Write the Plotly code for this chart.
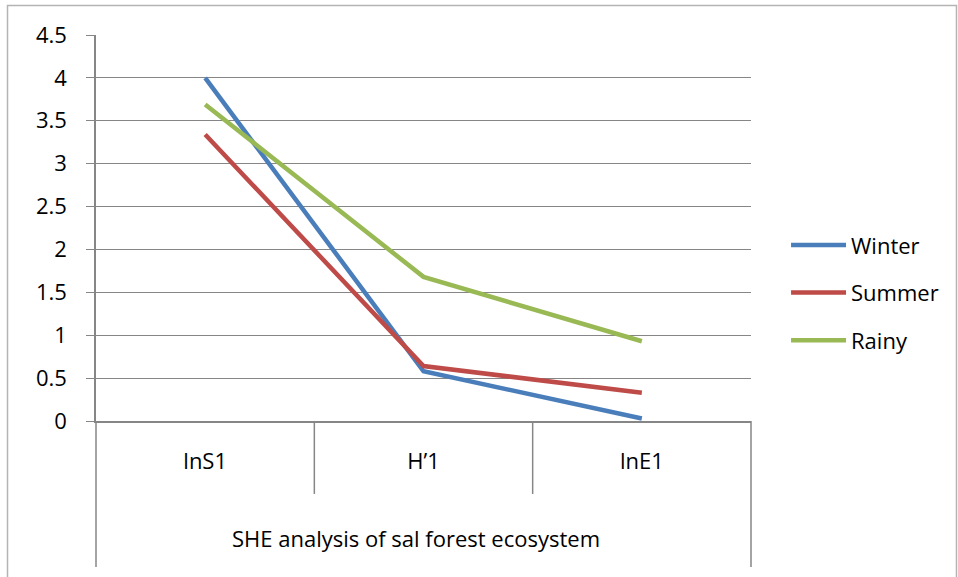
import plotly.graph_objects as go

# SHE analysis values per season
categories = ["lnS1", "H\u20191", "lnE1"]
winter = [4.00, 0.58, 0.03]
summer = [3.34, 0.64, 0.33]
rainy = [3.69, 1.68, 0.93]
group_label = "SHE analysis of sal forest ecosystem"
y_ticks = [0, 0.5, 1, 1.5, 2, 2.5, 3, 3.5, 4, 4.5]
y_tick_text = ["0", "0.5", "1", "1.5", "2", "2.5", "3", "3.5", "4", "4.5"]

FONT = "Open Sans, sans-serif"
FS = 22
GRID = "#868686"

series = [
    ("Winter", winter, "#4A7EBB"),
    ("Summer", summer, "#BE4B48"),
    ("Rainy", rainy, "#98B954"),
]

fig = go.Figure()
for name, vals, color in series:
    fig.add_trace(go.Scatter(
        x=categories, y=vals, name=name, mode="lines",
        legendgroup=name,
        line=dict(color=color, width=4.5),
    ))

# Frame of the category table under the plot and the outer chart border
shapes = []
for xp in [1 / 3, 2 / 3]:
    shapes.append(dict(type="line", xref="paper", yref="paper",
                       x0=xp, x1=xp, y0=0, y1=-0.189,
                       line=dict(color=GRID, width=1.5)))
for xp in [0, 1]:
    shapes.append(dict(type="line", xref="paper", yref="paper",
                       x0=xp, x1=xp, y0=0, y1=-0.378,
                       line=dict(color=GRID, width=1.5)))
shapes.append(dict(type="rect", xref="paper", yref="paper",
                   x0=-0.1351, x1=1.3137, y0=-0.45, y1=1.0764,
                   line=dict(color="#B4B4B4", width=1.5),
                   layer="below"))

fig.update_layout(
    width=958, height=577,
    margin=dict(l=96, r=207, t=35, b=156, autoexpand=False),
    paper_bgcolor="white", plot_bgcolor="white",
    font=dict(family=FONT, size=FS, color="#000000"),
    shapes=shapes,
    showlegend=True,
    legend=dict(
        x=1.0535, xanchor="left", y=0.51, yanchor="top",
        font=dict(family=FONT, size=FS, color="#000000"),
        itemwidth=55, tracegroupgap=16,
        bgcolor="rgba(0,0,0,0)",
    ),
    annotations=[dict(
        text=group_label, xref="paper", yref="paper",
        x=0.489, y=-0.303, xanchor="center", yanchor="middle",
        showarrow=False, font=dict(family=FONT, size=FS, color="#000000"),
    )],
)

fig.update_xaxes(
    type="category", range=[-0.5, 2.5],
    showgrid=False, zeroline=False,
    showline=True, linecolor=GRID, linewidth=1.5,
    ticks="", ticklabelstandoff=20,
    tickfont=dict(family=FONT, size=FS, color="#000000"),
)
fig.update_yaxes(
    range=[0, 4.5], tickvals=y_ticks, ticktext=y_tick_text,
    showgrid=True, gridcolor=GRID, gridwidth=1.3,
    zeroline=False,
    showline=True, linecolor=GRID, linewidth=1.5,
    ticks="outside", ticklen=8, tickcolor=GRID, tickwidth=1.3,
    ticklabelstandoff=15,
    tickfont=dict(family=FONT, size=FS, color="#000000"),
)

fig.write_html("out.html")
